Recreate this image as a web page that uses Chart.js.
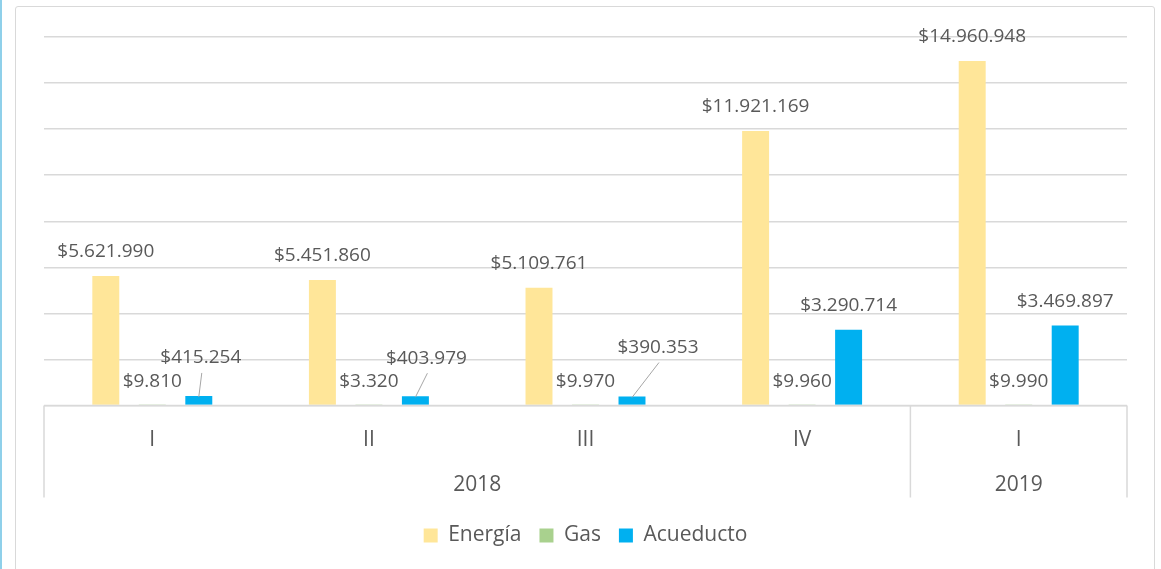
<!DOCTYPE html>
<html>
<head>
<meta charset="utf-8">
<script src="https://cdn.jsdelivr.net/npm/chart.js@4.4.1/dist/chart.umd.min.js"></script>
<style>
  html, body { margin: 0; padding: 0; background: #fff; overflow: hidden; }
  #wrap { position: relative; width: 1161px; height: 569px; }
  #edge { position: absolute; left: 0; top: 0; width: 2px; height: 569px; background: #8fd0ea; }
  #frame { position: absolute; left: 15px; top: 6px; width: 1140px; height: 600px;
           border: 1.5px solid #d9d9d9; border-radius: 3px; box-sizing: border-box; }
  #salesChart { position: absolute; left: 0; top: 0; }
</style>
</head>
<body>
<div id="wrap">
  <div id="edge"></div>
  <div id="frame"></div>
  <canvas id="salesChart" width="1161" height="569"></canvas>
</div>
<script>
// categories (two level axis)
const quarters = ["I", "II", "III", "IV", "I"];
const years = ["2018", "2018", "2018", "2018", "2019"];

// series values
const energia = [5621990, 5451860, 5109761, 11921169, 14960948];
const gas = [9810, 3320, 9970, 9960, 9990];
const acueducto = [415254, 403979, 390353, 3290714, 3469897];

// value axis
const yMax = 16000000;
const yStep = 2000000;

// label nudges (px) so the small labels sit like in the sheet
const labelShift = {
  0: [[0, 0], [0, 0], [0, 0], [0, 0], [0, 0]],
  1: [[0, 0], [0, 0], [0, 0], [0, 0], [0, 0]],
  2: [[2, -14], [11, -14], [26, -25], [0, 0], [0, 0]],
};

const textColor = "#595959";
const lineColor = "#d9d9d9";
const fontFamily = "'Open Sans', sans-serif";

function money(v) {
  return "$" + String(v).replace(/\B(?=(\d{3})+(?!\d))/g, ".");
}

// draws the value labels over each bar
const valueLabels = {
  id: "valueLabels",
  afterDatasetsDraw(chart) {
    const ctx = chart.ctx;
    ctx.save();
    ctx.font = "19px " + fontFamily;
    ctx.fillStyle = textColor;
    ctx.textAlign = "center";
    ctx.textBaseline = "middle";
    chart.data.datasets.forEach(function (ds, di) {
      const meta = chart.getDatasetMeta(di);
      meta.data.forEach(function (bar, i) {
        const shift = labelShift[di][i];
        const lx = bar.x + shift[0];
        const ly = bar.y - 24 + shift[1];
        if (shift[1] !== 0 && di === 2) {
          // leader line
          ctx.strokeStyle = "#a6a6a6";
          ctx.lineWidth = 1;
          ctx.beginPath();
          ctx.moveTo(lx + 1, ly + 15);
          ctx.lineTo(bar.x, bar.y + 1);
          ctx.stroke();
        }
        ctx.fillText(money(ds.data[i]), lx, ly);
      });
    });
    ctx.restore();
  },
};

// multi-level category axis like the spreadsheet one
const groupAxis = {
  id: "groupAxis",
  afterDraw(chart) {
    const ctx = chart.ctx;
    const area = chart.chartArea;
    const x = chart.scales.x;
    const step = (area.right - area.left) / quarters.length;
    const depth = 92;
    ctx.save();
    ctx.strokeStyle = lineColor;
    ctx.lineWidth = 1.5;
    ctx.beginPath();
    ctx.moveTo(area.left, area.bottom);
    ctx.lineTo(area.right, area.bottom);
    // group borders
    const cuts = [area.left];
    for (let i = 1; i < years.length; i++) {
      if (years[i] !== years[i - 1]) cuts.push(x.getPixelForValue(i) - step / 2);
    }
    cuts.push(area.right);
    cuts.forEach(function (cx) {
      ctx.moveTo(cx, area.bottom);
      ctx.lineTo(cx, area.bottom + depth);
    });
    ctx.stroke();

    ctx.fillStyle = textColor;
    ctx.font = "21px " + fontFamily;
    ctx.textAlign = "center";
    ctx.textBaseline = "middle";
    quarters.forEach(function (q, i) {
      ctx.fillText(q, x.getPixelForValue(i), area.bottom + 35);
    });
    // year labels centred on their group
    let start = 0;
    for (let i = 1; i <= years.length; i++) {
      if (i === years.length || years[i] !== years[start]) {
        const a = x.getPixelForValue(start) - step / 2;
        const b = x.getPixelForValue(i - 1) + step / 2;
        ctx.fillText(years[start], (a + b) / 2, area.bottom + 80);
        start = i;
      }
    }
    ctx.restore();
  },
};

const ctx = document.getElementById("salesChart").getContext("2d");
const salesChart = new Chart(ctx, {
  type: "bar",
  data: {
    labels: quarters,
    datasets: [
      { label: "Energía", data: energia, backgroundColor: "#ffe699" },
      { label: "Gas", data: gas, backgroundColor: "#a9d18e" },
      { label: "Acueducto", data: acueducto, backgroundColor: "#00b0f0" },
    ],
  },
  options: {
    responsive: false,
    animation: false,
    categoryPercentage: 0.644,
    barPercentage: 0.58,
    layout: { padding: { left: 44, right: 34, top: 37, bottom: 13 } },
    scales: {
      x: {
        grid: { display: false },
        border: { display: false },
        ticks: { display: false },
        afterFit: function (s) { s.height = 101.5; },
      },
      y: {
        min: 0,
        max: yMax,
        ticks: { display: false, stepSize: yStep },
        grid: { color: lineColor, lineWidth: 1.5, drawTicks: false },
        border: { display: false },
        afterFit: function (s) { s.width = 0; },
      },
    },
    plugins: {
      tooltip: { enabled: false },
      legend: {
        position: "bottom",
        labels: {
          boxWidth: 14,
          boxHeight: 14,
          padding: 18,
          color: textColor,
          font: { family: fontFamily, size: 21 },
        },
      },
    },
  },
  plugins: [valueLabels, groupAxis],
});
</script>
</body>
</html>
